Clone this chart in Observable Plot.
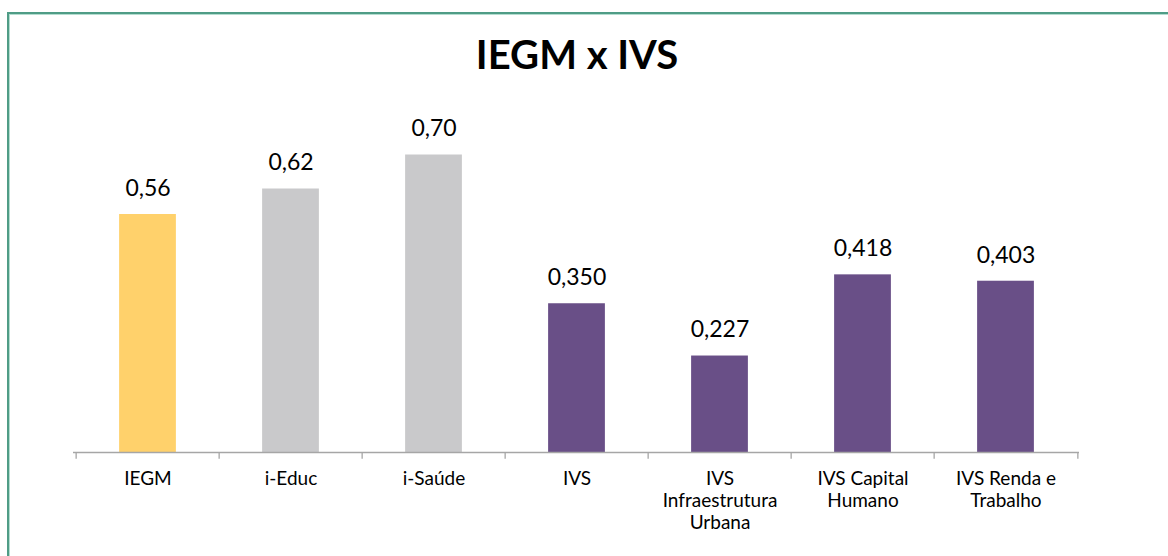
<!DOCTYPE html>
<html>
<head>
<meta charset="utf-8">
<script src="https://cdn.jsdelivr.net/npm/d3@7"></script>
<script src="https://cdn.jsdelivr.net/npm/@observablehq/plot@0.6"></script>
<style>
  html, body { margin: 0; padding: 0; background: #fff; }
  #wrap { position: relative; width: 1168px; height: 556px; overflow: hidden; font-family: Lato, "Open Sans", sans-serif; }
  #frame { position: absolute; left: 7px; top: 12px; width: 1200px; height: 600px; border-left: 2px solid #4f9c86; border-top: 2px solid #4f9c86; box-shadow: inset 1px 1px 0 #b4ddd0; }
  #title { position: absolute; left: 0; top: 28px; width: 1154px; text-align: center; font-weight: 700; font-size: 40px; color: #000; line-height: 52px; }
  #chart { position: absolute; left: 0; top: 90px; }
</style>
</head>
<body>
<div id="wrap">
  <div id="frame"></div>
  <div id="title">IEGM x IVS</div>
  <div id="chart"></div>
</div>
<script>
const categories = ["IEGM", "i-Educ", "i-Saúde", "IVS", "IVS\nInfraestrutura\nUrbana", "IVS Capital\nHumano", "IVS Renda e\nTrabalho"];
const values = [0.56, 0.62, 0.70, 0.350, 0.227, 0.418, 0.403];
const valueLabels = ["0,56", "0,62", "0,70", "0,350", "0,227", "0,418", "0,403"];
const groups = ["iegm", "sub", "sub", "ivs", "ivs", "ivs", "ivs"];

const data = categories.map((c, i) => ({cat: c, value: values[i], label: valueLabels[i], group: groups[i]}));

const width = 1168, height = 466;
const marginLeft = 73, marginRight = 89, marginTop = 22, marginBottom = 104;
const band = (width - marginLeft - marginRight) / categories.length;
const barInset = band * 0.3;

const chart = Plot.plot({
  width, height, marginLeft, marginRight, marginTop, marginBottom,
  style: {fontFamily: "Lato, 'Open Sans', sans-serif", background: "transparent"},
  x: {domain: categories, padding: 0, axis: null},
  y: {domain: [0, 0.8], axis: null},
  color: {domain: ["iegm", "sub", "ivs"], range: ["#ffd16b", "#c9c9cb", "#694f87"]},
  marks: [
    Plot.barY(data, {x: "cat", y: "value", fill: "group", insetLeft: barInset, insetRight: barInset}),
    Plot.ruleY([0], {stroke: "#a6a6a6", strokeWidth: 1.3}),
    Plot.ruleX(categories, {x: d => d, dx: -band / 2, y1: 0, y2: -0.016, stroke: "#a6a6a6", strokeWidth: 1.3}),
    Plot.ruleX([categories[categories.length - 1]], {x: d => d, dx: band / 2, y1: 0, y2: -0.016, stroke: "#a6a6a6", strokeWidth: 1.3}),
    Plot.text(data, {x: "cat", y: "value", text: "label", dy: -26, fontSize: 23, fill: "#000"}),
    Plot.text(data, {x: "cat", y: 0, text: "cat", lineAnchor: "top", dy: 17, fontSize: 19, lineHeight: 1.16, fill: "#000"})
  ]
});
document.getElementById("chart").appendChild(chart);
</script>
</body>
</html>
